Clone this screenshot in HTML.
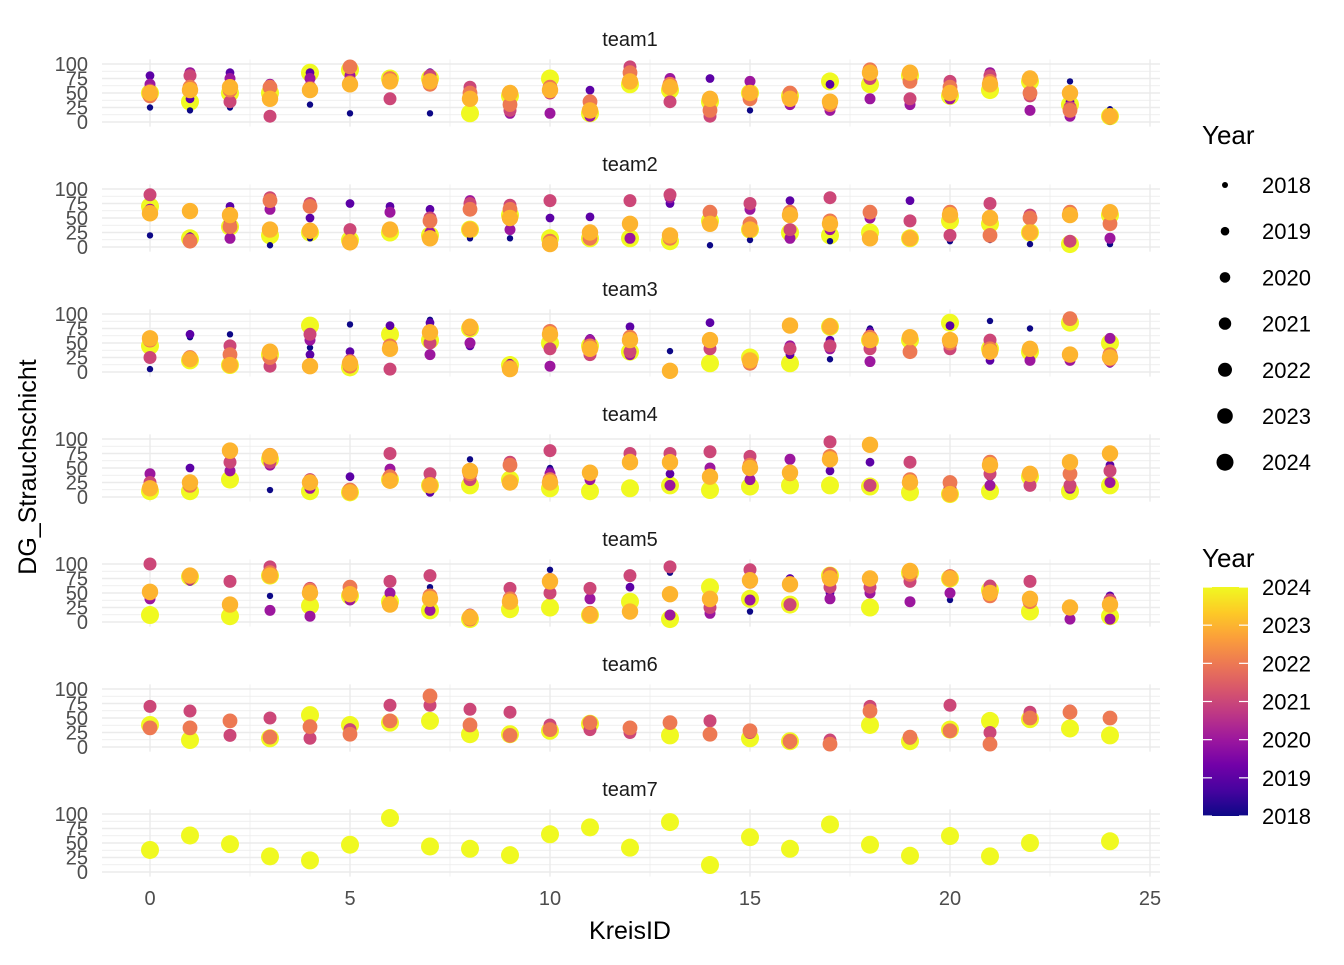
<!DOCTYPE html>
<html><head><meta charset="utf-8"><style>
body{margin:0;background:#fff}
svg text{font-family:"Liberation Sans",Arial,sans-serif}
</style></head><body>
<svg id="chart" width="1344" height="960" xmlns="http://www.w3.org/2000/svg"></svg>
<script>
const n=null;
const teams=["team1","team2","team3","team4","team5","team6","team7"];
const years=[2018,2019,2020,2021,2022,2023,2024];
const xTicks=[0,5,10,15,20,25];
const yTicks=[0,25,50,75,100];
const team1=[
[25,20,25,n,30,15,n,15,n,n,n,15,n,n,n,20,n,n,n,n,n,n,n,70,22],
[80,40,85,n,85,n,n,85,n,55,n,55,95,n,75,n,35,65,n,90,n,n,n,35,n],
[65,85,75,65,75,80,75,n,n,15,15,10,n,75,25,70,30,20,40,30,40,85,20,10,5],
[55,80,35,10,60,70,40,80,60,20,50,30,95,35,10,45,40,35,75,40,70,80,45,25,10],
[45,60,55,60,55,95,75,65,50,30,60,35,85,65,20,40,50,30,90,70,60,70,50,20,10],
[50,55,60,40,55,65,70,70,40,50,55,20,70,60,40,50,40,35,85,85,50,65,75,50,10],
[50,35,50,50,85,90,75,75,15,45,75,15,65,55,35,50,45,70,65,80,45,55,70,30,10]];
const team2=[
[20,20,n,3,15,n,n,n,15,15,n,n,n,n,3,12,n,10,n,n,10,12,5,n,5],
[n,n,70,n,50,75,70,65,n,n,50,52,n,75,n,n,80,n,n,80,n,n,n,n,n],
[65,15,15,65,25,30,60,25,80,30,80,n,15,85,55,65,15,30,50,45,20,75,50,60,15],
[90,10,40,85,75,30,30,50,75,72,80,20,80,90,60,75,30,85,60,45,20,75,55,10,40],
[60,10,35,80,70,10,30,45,65,65,10,15,40,15,60,40,60,45,60,15,60,20,50,60,40],
[58,62,55,30,28,8,30,15,30,50,5,25,40,20,40,30,55,40,15,15,55,50,25,55,60],
[70,15,35,20,25,12,25,20,30,55,15,15,15,10,45,30,25,20,25,15,45,40,25,5,55]];
const team3=[
[5,60,65,n,42,82,n,90,n,n,n,n,n,36,n,n,n,22,75,n,n,88,75,n,n],
[n,65,n,n,30,35,80,85,45,15,75,58,78,n,85,n,30,55,70,n,80,20,n,n,15],
[n,25,25,15,55,15,45,30,50,12,10,55,30,n,50,n,45,40,18,35,40,30,20,20,58],
[25,20,45,10,65,20,5,50,n,5,40,30,35,n,40,20,40,45,40,60,40,55,n,n,20],
[55,25,30,25,10,10,45,70,75,8,70,45,60,2,55,15,80,80,60,35,50,40,40,92,30],
[58,22,12,35,10,15,40,68,78,5,65,40,55,2,55,20,80,78,55,60,55,35,40,30,25],
[45,20,12,30,80,8,65,55,75,12,50,45,35,n,15,25,15,78,55,55,85,40,35,85,50]];
const team4=[
[n,n,n,12,n,n,n,n,65,n,50,n,n,n,n,n,n,n,n,n,n,n,n,n,n],
[n,50,n,n,n,35,n,8,50,n,45,n,n,40,n,n,65,45,60,n,30,35,n,n,55],
[40,20,45,55,15,10,48,30,45,28,40,30,70,20,50,30,65,n,n,n,22,20,n,15,25],
[25,25,60,60,30,10,75,40,30,60,80,40,75,75,78,70,40,95,20,60,15,40,20,20,45],
[15,20,78,72,25,12,35,22,40,55,30,40,62,60,35,55,40,70,90,30,25,60,40,40,75],
[15,25,80,70,25,8,28,20,45,25,25,42,60,60,35,50,42,65,90,25,5,55,40,60,75],
[10,10,30,65,10,8,30,20,20,30,15,10,15,20,12,18,20,20,18,8,5,10,35,10,20]];
const team5=[
[n,n,n,45,n,n,n,60,n,n,90,n,n,85,n,18,n,n,n,n,38,n,n,n,n],
[n,70,n,n,n,n,n,n,n,n,n,n,60,n,n,n,75,50,n,n,n,60,n,n,45],
[40,n,30,20,10,38,50,20,n,n,n,40,n,12,15,38,n,40,50,35,50,n,n,5,5],
[100,75,70,95,58,55,70,80,12,58,50,58,80,95,25,90,30,60,60,70,80,62,70,n,38],
[50,80,n,85,55,60,32,45,5,40,72,15,n,48,38,70,65,82,75,82,78,45,35,25,30],
[52,80,30,80,50,48,30,40,8,35,70,12,18,48,40,72,65,75,75,88,75,50,40,25,30],
[12,78,10,80,28,45,35,20,5,22,25,12,35,5,60,40,30,80,25,85,75,55,18,n,10]];
const team6=[
[n,n,n,n,n,n,n,n,n,n,n,n,n,n,n,n,n,n,n,n,n,n,n,n,n],
[n,n,n,n,n,n,n,n,n,n,n,n,n,n,n,n,n,n,n,n,n,n,n,n,n],
[n,n,n,n,n,n,n,n,n,n,n,n,n,n,n,n,n,n,n,n,n,n,n,n,n],
[70,62,20,50,15,30,72,72,65,60,38,30,25,n,45,25,8,12,70,15,72,25,60,62,50],
[33,33,45,17,35,22,45,88,38,20,30,42,33,42,22,28,10,5,62,17,28,5,50,60,50],
[n,n,n,n,n,n,n,n,n,n,n,n,n,n,n,n,n,n,n,n,n,n,n,n,n],
[38,12,n,15,55,38,42,45,22,22,28,40,n,20,n,15,10,n,38,10,30,45,48,32,20]];
const team7=[
[n,n,n,n,n,n,n,n,n,n,n,n,n,n,n,n,n,n,n,n,n,n,n,n,n],
[n,n,n,n,n,n,n,n,n,n,n,n,n,n,n,n,n,n,n,n,n,n,n,n,n],
[n,n,n,n,n,n,n,n,n,n,n,n,n,n,n,n,n,n,n,n,n,n,n,n,n],
[n,n,n,n,n,n,n,n,n,n,n,n,n,n,n,n,n,n,n,n,n,n,n,n,n],
[n,n,n,n,n,n,n,n,n,n,n,n,n,n,n,n,n,n,n,n,n,n,n,n,n],
[n,n,n,n,n,n,n,n,n,n,n,n,n,n,n,n,n,n,n,n,n,n,n,n,n],
[38,63,48,27,20,47,93,44,40,29,65,77,42,86,12,60,40,82,47,28,62,27,50,n,53]];
const teamData=[team1,team2,team3,team4,team5,team6,team7];
const colors=["#0d0887","#5c01a6","#9c179e","#cc4778","#ed7953","#fdb42f","#f0f921"];
const radii=[3.2,4.4,5.5,6.5,7.4,8.2,9];
const drawOrder=[6,0,1,2,3,4,5];

const svg=document.getElementById('chart');
const NS="http://www.w3.org/2000/svg";
function mk(tag,attrs,parent){const e=document.createElementNS(NS,tag);for(const k in attrs)e.setAttribute(k,attrs[k]);(parent||svg).appendChild(e);return e;}
const X0=102,X1=1160;
function xs(v){return 150+v*40;}
function ys(i,v){return 122+125*i-v*0.58;}

teams.forEach((t,i)=>{
  const g=mk('g',{});
  
  
  for(let v=-12.5;v<=112.5;v+=12.5){
    const major=(v%25===0)&&v>=0&&v<=100;
    if(v<-5||v>108)continue;
    mk('line',{x1:X0,x2:X1,y1:ys(i,v),y2:ys(i,v),stroke:'#ebebeb','stroke-width':major?1.4:0.7},g);
  }
  for(let v=0;v<=25;v+=2.5){
    const major=v%5===0;
    mk('line',{x1:xs(v),x2:xs(v),y1:ys(i,108),y2:ys(i,-8),stroke:'#ebebeb','stroke-width':major?1.4:0.7},g);
  }
  const tt=mk('text',{x:630,y:46+125*i,'text-anchor':'middle','font-size':20,fill:'#1a1a1a'},g);
  tt.textContent=t;
  
  
  yTicks.forEach(v=>{
    const l=mk('text',{x:88,y:ys(i,v)+7,'text-anchor':'end','font-size':20,fill:'#4d4d4d'},g);
    l.textContent=v;
    
    
  });
  const d=teamData[i];
  drawOrder.forEach(k=>{
    const yr=years[k];
    d[k].forEach((v,x)=>{
      if(v===null)return;
      const c=mk('circle',{cx:xs(x),cy:ys(i,v),r:radii[k],fill:colors[k]},g);
      
      
    });
  });
});
xTicks.forEach(v=>{
  const l=mk('text',{x:xs(v),y:905,'text-anchor':'middle','font-size':20,fill:'#4d4d4d'});
  l.textContent=v;
  
  
});
const xt=mk('text',{x:630,y:939,'text-anchor':'middle','font-size':25,fill:'#000'});
xt.textContent='KreisID';


const yt=mk('text',{x:0,y:0,'text-anchor':'middle','font-size':25,fill:'#000',transform:'translate(36,467) rotate(-90)'});
yt.textContent='DG_Strauchschicht';



const lt=mk('text',{x:1202,y:144,'font-size':26,fill:'#000'});
lt.textContent='Year';


const legR=[3,4.3,5.3,6.2,7,7.8,8.5];
years.forEach((yr,k)=>{
  const yy=185+k*46.2;
  const c=mk('circle',{cx:1225,cy:yy,r:legR[k],fill:'#000'});
  
  
  const l=mk('text',{x:1262,y:yy+8,'font-size':22,fill:'#000'});
  l.textContent=yr;
  
  
});
const ct=mk('text',{x:1202,y:567,'font-size':26,fill:'#000'});
ct.textContent='Year';


const defs=mk('defs',{});
const grad=mk('linearGradient',{id:'pl',x1:0,y1:1,x2:0,y2:0},defs);
["#0d0887","#46039f","#7201a8","#9c179e","#bd3786","#d8576b","#ed7953","#fb9f3a","#fdca26","#f0f921"].forEach((c,i,a)=>mk('stop',{offset:i/(a.length-1),'stop-color':c},grad));
const cb=mk('rect',{x:1203,y:587,width:45,height:229,fill:'url(#pl)'});


years.forEach((yr,k)=>{
  const yy=816-k*229/6;
  mk('line',{x1:1203,x2:1212,y1:yy,y2:yy,stroke:'#fff','stroke-width':1.2});
  mk('line',{x1:1239,x2:1248,y1:yy,y2:yy,stroke:'#fff','stroke-width':1.2});
  const l=mk('text',{x:1262,y:yy+8,'font-size':22,fill:'#000'});
  l.textContent=yr;
  
  
});
</script>
</body></html>
